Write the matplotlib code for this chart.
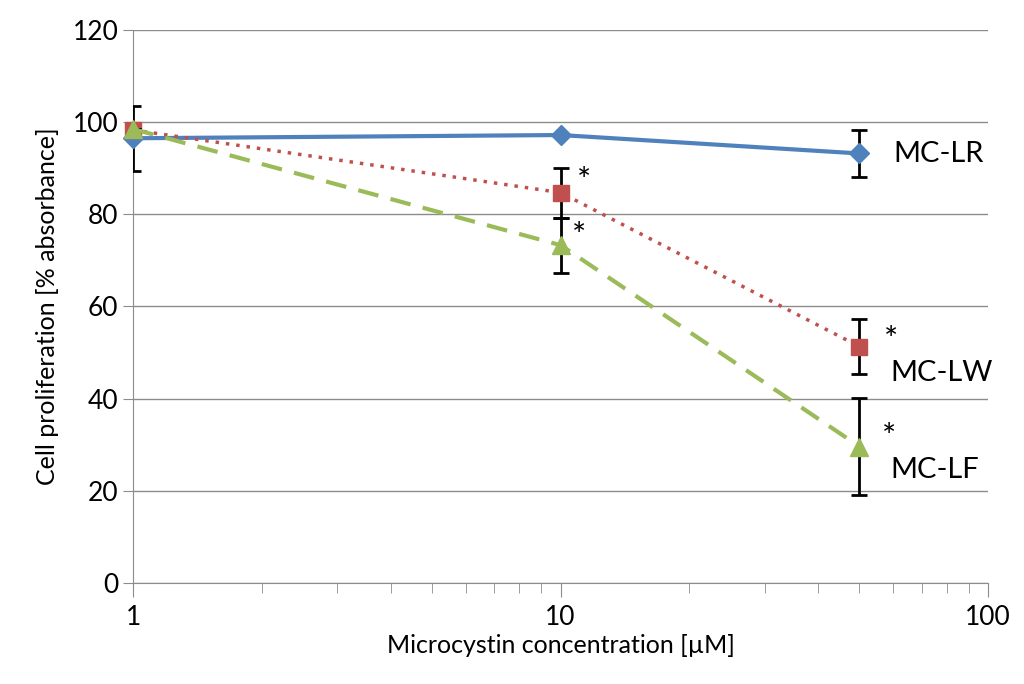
import matplotlib.pyplot as plt

conc = [1, 10, 50]
lr = [96.5, 97.2, 93.2]
lr_err = [7.0, 0, 5.2]
lw = [98.3, 84.7, 51.3]
lw_err = [0, 5.4, 6.0]
lf = [98.5, 73.3, 29.6]
lf_err = [0, 6.0, 10.5]

plt.rcParams['font.family'] = ['Lato', 'DejaVu Sans']

fig = plt.figure(figsize=(10.24, 6.84), dpi=100)
ax = fig.add_axes([0.13, 0.1477, 0.835, 0.8085])

ax.set_xscale('log')
ax.set_xlim(1, 100)
ax.set_ylim(0, 120)
ax.set_yticks(range(0, 121, 20))
ax.yaxis.grid(True, color='#8c8c8c', lw=1)
ax.set_axisbelow(True)

eb = ax.errorbar(conc, lr, yerr=lr_err, color='#4F81BD', lw=3, marker='D', ms=10,
                 ecolor='black', elinewidth=2, capsize=6, capthick=2, zorder=3)
eb[0].set_clip_on(False)
eb = ax.errorbar(conc, lw, yerr=lw_err, color='#C0504D', lw=2.5, ls=(0, (1, 2)), marker='s', ms=12,
                 ecolor='black', elinewidth=2, capsize=6, capthick=2, zorder=4)
eb[0].set_clip_on(False)
eb = ax.errorbar(conc, lf, yerr=lf_err, color='#9BBB59', lw=3, ls=(0, (5, 3)), marker='^', ms=13,
                 ecolor='black', elinewidth=2, capsize=6, capthick=2, zorder=5)
eb[0].set_clip_on(False)

ax.text(60, 93, 'MC-LR', fontsize=21, va='center')
ax.text(59, 45.5, 'MC-LW', fontsize=21, va='center')
ax.text(59, 24.5, 'MC-LF', fontsize=21, va='center')
for x, y in [(10.9, 87), (10.6, 75), (57, 52.5), (56.5, 31.5)]:
    ax.text(x, y, '*', fontsize=24, va='center')

for s in ['top', 'right']:
    ax.spines[s].set_visible(False)
for s in ['left', 'bottom']:
    ax.spines[s].set_color('#8c8c8c')
ax.tick_params(axis='both', which='both', color='#8c8c8c', labelsize=19, length=7)
ax.tick_params(axis='x', which='minor', length=7)
ax.tick_params(axis='x', which='major', length=10, pad=6)
ax.xaxis.set_major_formatter(plt.FuncFormatter(lambda v, p: '%g' % v))
ax.xaxis.set_minor_formatter(plt.NullFormatter())

ax.set_xlabel('Microcystin concentration [µM]', fontsize=18, labelpad=3)
ax.set_ylabel('Cell proliferation [% absorbance]', fontsize=18, labelpad=10)

fig.savefig('out.png')
